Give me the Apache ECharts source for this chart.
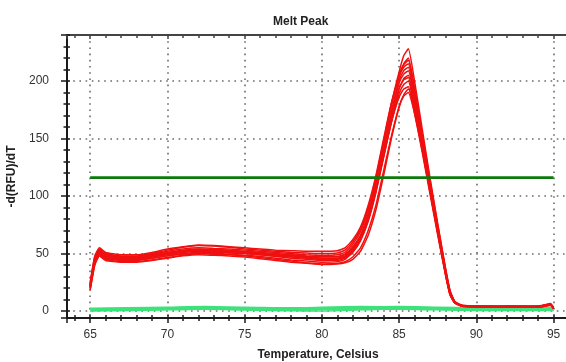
<!DOCTYPE html>
<html>
<head>
<meta charset="utf-8">
<script src="https://cdn.jsdelivr.net/npm/echarts@6/dist/echarts.min.js"></script>
<style>
  html, body { margin: 0; padding: 0; background: #fff; }
  #chart { width: 566px; height: 362px; }
</style>
</head>
<body>
<div id="chart"></div>
<script>
// temperatures shared by the red melt curves
const temps = [65, 65.3, 65.6, 66, 67, 68, 69, 70, 71, 72, 73, 74, 75, 76, 77, 78, 79, 80, 81,
  81.5, 82, 82.5, 83, 83.5, 84, 84.5, 85, 85.3, 85.6, 86, 86.5, 87, 87.5, 88, 88.3, 88.6, 89,
  89.5, 90, 91, 92, 93, 94, 94.8, 95];

// red samples: -d(RFU)/dT for each well
const red1 = [22, 45, 53, 49, 47, 47, 49, 51, 53, 54, 53.5, 53, 52, 51, 50, 49, 48, 47.5, 47.5,
  49.5, 56, 66, 85, 112, 146, 180, 208, 222, 228, 200, 158, 116, 76, 38, 18, 8.5, 5.5,
  4.5, 4, 4, 4, 4, 4, 6, 3];
const red2 = [20, 42, 50, 46, 44, 44, 46, 48, 50, 51, 51, 50.5, 50, 49, 47.5, 46, 45, 44, 44,
  46, 52, 62, 79, 104, 134, 164, 189, 197, 200, 175, 140, 104, 68, 33, 15, 7.5, 5,
  4, 4, 3.5, 4, 4, 3.5, 5.5, 2.5];
const red3 = [24, 47, 54, 50, 48, 48, 50, 53, 55.5, 57, 56.5, 55.5, 54, 53, 52, 51, 50.5, 50, 50.5,
  53, 60, 71, 90, 116, 148, 180, 204, 214, 218, 192, 152, 112, 73, 36, 17, 8, 5,
  4.5, 4.5, 4, 4.5, 4, 4, 6, 3];
const red4 = [19, 41, 49, 45, 43, 43, 44.5, 46.5, 48.5, 50, 49.5, 49, 48, 46.5, 45, 43.5, 42, 41, 41.5,
  43, 47, 55, 70, 92, 122, 152, 178, 187, 190, 172, 140, 104, 68, 32, 14, 7, 4.5,
  4, 3.5, 3.5, 3.5, 3.5, 3.5, 5, 2];
const red5 = [22, 44, 52, 48, 46, 46, 48, 50, 52, 53, 52.5, 52, 51, 50, 49, 48, 47, 46, 46,
  48, 54, 64, 82, 108, 140, 173, 200, 209, 212, 186, 148, 110, 72, 35, 16, 8, 5,
  4, 4, 4, 4, 4, 4, 5.5, 2.5];
const red6 = [25, 48, 55, 51, 49, 49, 51, 54, 56, 57.5, 57, 56, 55, 54, 53, 52.5, 52, 52, 52.5,
  55, 62, 73, 92, 118, 150, 181, 204, 212, 215, 190, 151, 111, 73, 36, 17, 8, 5,
  4.5, 4.5, 4.5, 4, 4.5, 4, 6.5, 3];
const red7 = [21, 43, 51, 47, 45, 45, 47, 49, 51, 52, 51.5, 51, 50, 49, 48, 47, 46, 45, 45,
  47, 53, 63, 80, 105, 135, 164, 186, 193, 195, 172, 138, 102, 66, 32, 14, 7, 4.5,
  4, 4, 3.5, 4, 3.5, 4, 5, 2.5];
const red8 = [23, 46, 53, 49, 47.5, 47.5, 49.5, 52, 54, 55, 54.5, 54, 53, 52, 51, 50, 49, 48.5, 49,
  51, 58, 69, 88, 114, 146, 178, 205, 215, 220, 194, 154, 114, 75, 37, 17, 8, 5,
  4.5, 4, 4, 4.5, 4, 4.5, 6, 3];
const red9 = [20, 42, 50, 46, 44.5, 44.5, 46, 48, 49.5, 50.5, 50, 49.5, 48.5, 47.5, 46, 44.5, 43.5, 42.5, 43,
  45, 51, 61, 78, 103, 134, 165, 193, 202, 205, 180, 144, 107, 70, 34, 15, 7.5, 5,
  4, 4, 4, 3.5, 4, 4, 5.5, 2.5];
const red10 = [22, 45, 52, 48, 46.5, 46.5, 48.5, 50.5, 52.5, 53.5, 53, 52.5, 51.5, 50.5, 49.5, 48.5, 47.5, 47, 47,
  49, 55, 65, 83, 109, 141, 172, 198, 206, 209, 184, 146, 108, 71, 34, 16, 8, 5,
  4.5, 4, 4, 4, 4, 4, 5.5, 3];
const red11 = [18, 40, 48, 44, 42.5, 42.5, 44, 46, 48, 49, 48.5, 48, 47, 45.5, 44, 42.5, 41.5, 40.5, 41,
  42, 45, 52, 66, 88, 118, 150, 177, 188, 193, 176, 143, 106, 70, 34, 15, 7.5, 5,
  4, 3.5, 3.5, 4, 3.5, 3.5, 5, 2];
const red12 = [21, 44, 51, 47, 45.5, 45.5, 47.5, 49.5, 51.5, 52.5, 52, 51.5, 50.5, 49.5, 48.5, 47.5, 46.5, 45.5, 45.5,
  47, 53, 63, 81, 106, 137, 168, 194, 201, 203, 178, 142, 105, 69, 33, 15, 7.5, 4.5,
  4, 4, 4, 4, 4, 4, 5.5, 2.5];
const redCurves = [red1, red2, red3, red4, red5, red6, red7, red8, red9, red10, red11, red12];

// green (negative) wells, sampled more coarsely
const greenTemps = [65, 67.5, 70, 72.5, 75, 77.5, 80, 82.5, 85, 87.5, 90, 92.5, 95];
const green1 = [1.5, 2, 2.5, 3, 2.5, 2, 2.5, 3, 3, 2.5, 2, 2, 2];
const green2 = [0.5, 1, 1.5, 2, 2, 1.5, 1.5, 2, 2, 1.5, 1, 1, 1];
const green3 = [2, 2.5, 3, 3.5, 3.5, 3, 3, 3.5, 4, 3.5, 3, 2.5, 2.5];
const green4 = [1, 1.5, 2, 2.5, 1.5, 1, 2, 2.5, 2.5, 2, 1.5, 1.5, 1.5];
const green5 = [2.5, 3, 3.5, 4, 3, 2.5, 3.5, 4, 3.5, 3, 2.5, 3, 3];
const green6 = [0, 0.5, 1, 1.5, 1, 0.5, 1, 1.5, 1.5, 1, 0.5, 0.5, 0.5];
const green7 = [1.5, 2, 2, 2.5, 3, 2.5, 2, 2.5, 3, 3, 2.5, 2, 2];
const green8 = [1, 1, 1.5, 2, 1, 0.5, 0, 1, 2, 2, 1.5, 1, 1];
const greenCurves = [green1, green2, green3, green4, green5, green6, green7, green8];

// melt peak threshold
const thresholdValue = 116;
const thresholdRange = [65, 95];

const xLabels = [65, 70, 75, 80, 85, 90, 95];
const yLabels = [0, 50, 100, 150, 200];

const FONT = '"Liberation Sans", Arial, sans-serif';
const AXIS_COLOR = '#1a1a1a';
const GRID_DOTS = { color: '#6b6b6b', width: 1.6, type: [1.6, 4.6] };

const chart = echarts.init(document.getElementById('chart'), null, { renderer: 'canvas' });

const xBase = { type: 'value', min: 63.5, max: 96, minInterval: 5, maxInterval: 5, splitNumber: 7 };
const yBase = { type: 'value', min: -6, max: 240, minInterval: 50, maxInterval: 50, splitNumber: 5 };

const series = [];
greenCurves.forEach((vals, i) => {
  series.push({
    name: 'neg' + i,
    type: 'line',
    data: greenTemps.map((t, k) => [t, vals[k]]),
    showSymbol: false,
    smooth: 0.3,
    lineStyle: { color: '#3de27a', width: 1.3 },
    silent: true,
    z: 2,
  });
});
redCurves.forEach((vals, i) => {
  series.push({
    name: 'pos' + i,
    type: 'line',
    data: temps.map((t, k) => [t, vals[k]]),
    showSymbol: false,
    smooth: 0.15,
    lineStyle: { color: '#f01010', width: 1.5 },
    silent: true,
    z: 3,
  });
});
series.push({
  name: 'threshold',
  type: 'line',
  data: thresholdRange.map(t => [t, thresholdValue]),
  showSymbol: false,
  lineStyle: { color: '#0b7a0b', width: 2.6 },
  silent: true,
  z: 4,
});

const option = {
  animation: false,
  backgroundColor: '#ffffff',
  textStyle: { fontFamily: FONT },
  title: {
    text: 'Melt Peak',
    left: 268,
    top: 11,
    textStyle: { fontFamily: FONT, fontSize: 12, fontWeight: 'bold', color: '#222' },
  },
  grid: { left: 67, top: 35, right: -3, bottom: 44, containLabel: false, outerBoundsMode: 'none' },
  xAxis: [
    {
      ...xBase,
      position: 'bottom',
      name: 'Temperature, Celsius',
      nameLocation: 'middle',
      nameGap: 31,
      nameTextStyle: { fontFamily: FONT, fontSize: 12, fontWeight: 'bold', color: '#222' },
      axisLine: { show: true, onZero: false, lineStyle: { color: AXIS_COLOR, width: 2 } },
      axisTick: { show: true, length: 5, lineStyle: { color: AXIS_COLOR, width: 1.5 } },
      minorTick: { show: true, splitNumber: 5, length: 3, lineStyle: { color: AXIS_COLOR, width: 1.5 } },
      splitLine: { show: true, lineStyle: GRID_DOTS },
      axisLabel: {
        margin: 11,
        fontSize: 12,
        color: '#333',
        formatter: v => (xLabels.includes(v) ? String(v) : ''),
      },
    },
    {
      ...xBase,
      position: 'bottom',
      axisLine: { show: false, onZero: false },
      axisTick: { show: true, inside: true, length: 3, lineStyle: { color: AXIS_COLOR, width: 1.5 } },
      minorTick: { show: true, splitNumber: 5, length: 3, lineStyle: { color: AXIS_COLOR, width: 1.5 } },
      splitLine: { show: false },
      axisLabel: { show: false },
    },
    {
      ...xBase,
      position: 'top',
      axisLine: { show: true, onZero: false, lineStyle: { color: '#444', width: 2 } },
      axisTick: { show: true, inside: true, length: 4, lineStyle: { color: '#444', width: 1.5 } },
      minorTick: { show: true, splitNumber: 5, length: 3, lineStyle: { color: '#444', width: 1.5 } },
      splitLine: { show: false },
      axisLabel: { show: false },
    },
  ],
  yAxis: [
    {
      ...yBase,
      position: 'left',
      name: '-d(RFU)/dT',
      nameLocation: 'middle',
      nameGap: 47,
      nameTextStyle: { fontFamily: FONT, fontSize: 12, fontWeight: 'bold', color: '#222' },
      axisLine: { show: true, onZero: false, lineStyle: { color: AXIS_COLOR, width: 2 } },
      axisTick: { show: true, length: 6, lineStyle: { color: AXIS_COLOR, width: 1.5 } },
      minorTick: { show: true, splitNumber: 5, length: 3.5, lineStyle: { color: AXIS_COLOR, width: 1.5 } },
      splitLine: { show: true, lineStyle: GRID_DOTS },
      axisLabel: {
        margin: 18,
        fontSize: 12,
        color: '#333',
        formatter: v => (yLabels.includes(v) ? String(v) : ''),
      },
    },
    {
      ...yBase,
      position: 'left',
      axisLine: { show: false, onZero: false },
      axisTick: { show: true, inside: true, length: 3, lineStyle: { color: AXIS_COLOR, width: 1.5 } },
      minorTick: { show: true, splitNumber: 5, length: 3, lineStyle: { color: AXIS_COLOR, width: 1.5 } },
      splitLine: { show: false },
      axisLabel: { show: false },
    },
  ],
  series: series,
};

chart.setOption(option);
</script>
</body>
</html>
